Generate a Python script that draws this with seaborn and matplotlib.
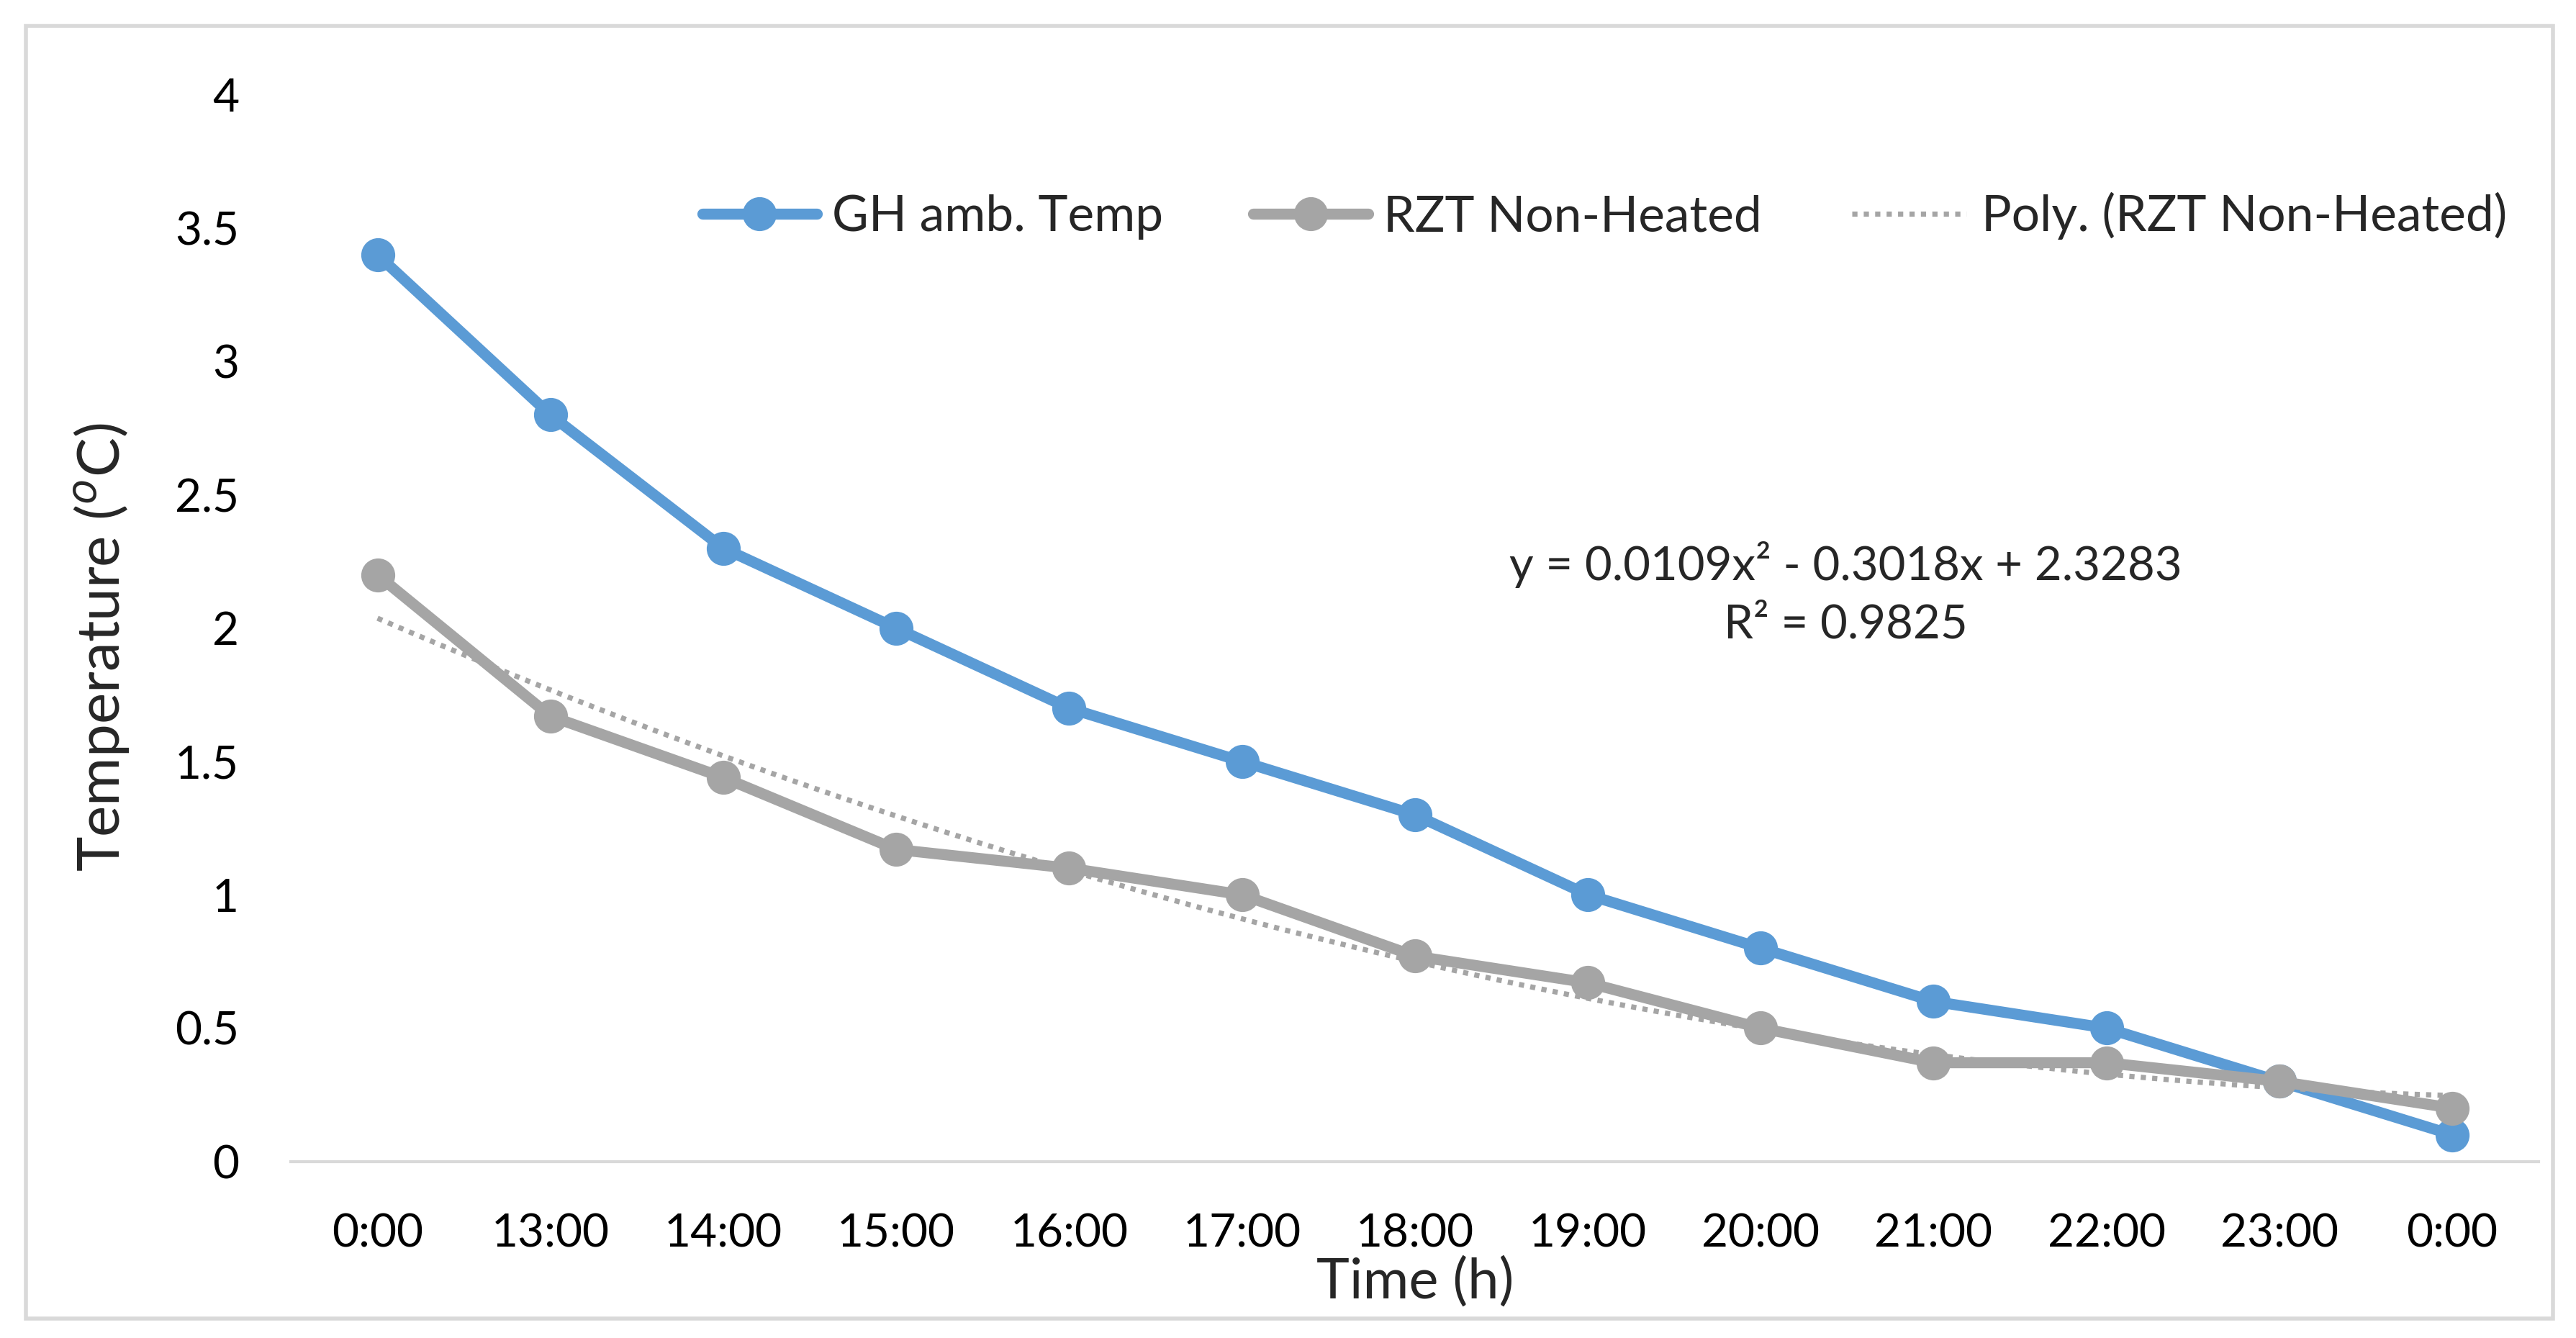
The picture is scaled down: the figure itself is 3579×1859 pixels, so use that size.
import matplotlib
matplotlib.use('Agg')
import matplotlib.pyplot as plt
import seaborn as sns
import numpy as np
import pandas as pd
from matplotlib.patches import Rectangle

# Data
time_labels = ['0:00', '13:00', '14:00', '15:00', '16:00', '17:00', '18:00',
               '19:00', '20:00', '21:00', '22:00', '23:00', '0:00']
gh_amb_temp = [3.4, 2.8, 2.3, 2.0, 1.7, 1.5, 1.3, 1.0, 0.8, 0.6, 0.5, 0.3, 0.1]
rzt_non_heated = [2.2, 1.67, 1.44, 1.17, 1.1, 1.0, 0.77, 0.67, 0.5, 0.37, 0.37, 0.3, 0.2]
# Excel polynomial trendline (x = 1..n), as printed on the chart
poly_coef = [0.0109, -0.3018, 2.3283]
r_squared = 0.9825

BLUE = '#5B9BD5'
GREY = '#A5A5A5'

sns.set_style("white")
plt.rcParams['font.family'] = ['Lato', 'DejaVu Sans']
plt.rcParams['mathtext.fontset'] = 'custom'
plt.rcParams['mathtext.rm'] = 'Lato'

df = pd.DataFrame({
    'pos': np.arange(len(time_labels)),
    'gh': gh_amb_temp,
    'rzt': rzt_non_heated,
})

fig = plt.figure(figsize=(17.895, 9.295), dpi=200)
ax = fig.add_axes([0.113, 0.132, 0.8725, 0.797])

sns.lineplot(data=df, x='pos', y='gh', ax=ax, color=BLUE, linewidth=5.5,
             marker='o', markersize=17, markeredgewidth=0, label='GH amb. Temp')
sns.lineplot(data=df, x='pos', y='rzt', ax=ax, color=GREY, linewidth=5.5,
             marker='o', markersize=17, markeredgewidth=0, label='RZT Non-Heated')

# trendline from the fitted polynomial
xs = np.linspace(1, len(time_labels), 200)
ax.plot(xs - 1, np.polyval(poly_coef, xs), color=GREY, linewidth=2.6,
        linestyle=(0, (1, 1.2)), label='Poly. (RZT Non-Heated)')

ax.set_xlim(-0.5, len(time_labels) - 0.5)
ax.set_ylim(0, 4)
ax.set_yticks(np.arange(0, 4.01, 0.5))
ax.set_yticklabels(['0', '0.5', '1', '1.5', '2', '2.5', '3', '3.5', '4'])
ax.set_xticks(df['pos'])
ax.set_xticklabels(time_labels)
ax.tick_params(axis='both', length=0, labelsize=23, colors='black')
ax.tick_params(axis='y', pad=26)
ax.tick_params(axis='x', pad=26)

for side in ['top', 'right', 'left']:
    ax.spines[side].set_visible(False)
ax.spines['bottom'].set_color('#D9D9D9')
ax.spines['bottom'].set_linewidth(1.5)

ax.set_xlabel('Time (h)', fontsize=28)
ax.set_ylabel('Temperature ($^{o}$C)', fontsize=29.5)
ax.xaxis.set_label_coords(0.5, -0.089)
ax.yaxis.set_label_coords(-0.071, 0.482)

eq = f'y = {poly_coef[0]:.4f}x² - {abs(poly_coef[1]):.4f}x + {poly_coef[2]:.4f}\nR² = {r_squared:.4f}'
ax.text(8.49, 2.13, eq, ha='center', va='center', fontsize=23.5, linespacing=1.45)

ax.legend(loc='upper right', bbox_to_anchor=(1.006, 0.951), ncol=3, frameon=False,
          fontsize=25, handlelength=2.3, handletextpad=0.3, columnspacing=1.8)

# light grey chart border
fig.patches.append(Rectangle((36 / 3579, 1 - 1832 / 1859), (3547 - 36) / 3579,
                             (1832 - 36) / 1859, transform=fig.transFigure,
                             fill=False, edgecolor='#D9D9D9', linewidth=2))

fig.savefig('out.png', dpi=200)
